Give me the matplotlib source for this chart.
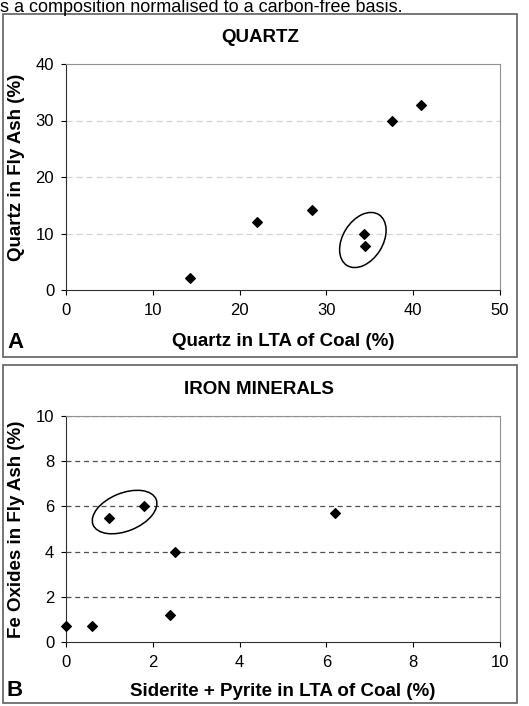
import matplotlib
matplotlib.use('Agg')
import matplotlib.pyplot as plt
from matplotlib.patches import Ellipse, Rectangle
from matplotlib import transforms

plt.rcParams['font.family'] = ['Liberation Sans', 'DejaVu Sans']

# Panel A: quartz
quartz_lta = [14.3, 22.0, 28.3, 34.3, 34.5, 37.5, 40.9]
quartz_ash = [2.1, 12.1, 14.2, 9.9, 7.8, 29.9, 32.7]
quartz_xticks = [0, 10, 20, 30, 40, 50]
quartz_yticks = [0, 10, 20, 30, 40]

# Panel B: iron minerals
iron_lta = [0.0, 0.6, 1.0, 1.8, 2.4, 2.5, 6.2]
iron_ash = [0.7, 0.7, 5.5, 6.0, 1.2, 4.0, 5.7]
iron_xticks = [0, 2, 4, 6, 8, 10]
iron_yticks = [0, 2, 4, 6, 8, 10]

W, H = 529, 706
fig = plt.figure(figsize=(W / 100, H / 100), dpi=100)


def fx(px):
    return px / W


def fy(py):
    return 1 - py / H


# caption fragment cut at the top of the page
fig.text(0.0, fy(12), 's a composition normalised to a carbon-free basis.',
         fontsize=13, va='baseline', ha='left')

# panel frames
for top, bottom in [(14, 357), (365, 703)]:
    fig.patches.append(Rectangle((fx(3), fy(bottom)), fx(514), (bottom - top) / H,
                                 transform=fig.transFigure, fill=False,
                                 edgecolor='#606060', linewidth=1.2))


def setup_axes(ax, xticks, yticks, grid_color, grid_dash):
    ax.set_xlim(xticks[0], xticks[-1])
    ax.set_ylim(yticks[0], yticks[-1])
    ax.set_xticks(xticks)
    ax.set_yticks(yticks)
    ax.tick_params(direction='out', length=3.5, width=0.8, labelsize=12)
    ax.tick_params(axis='x', pad=6)
    ax.tick_params(axis='y', pad=5)
    for y in yticks[1:-1]:
        ax.axhline(y, color=grid_color, linestyle=grid_dash, linewidth=0.9, zorder=1)
    for s in ['top', 'right']:
        ax.spines[s].set_color('#909090')
    for s in ['left', 'bottom']:
        ax.spines[s].set_color('#303030')


def add_ellipse(ax, cx, cy, w_px, h_px, angle):
    trans = fig.dpi_scale_trans + transforms.ScaledTranslation(cx, cy, ax.transData)
    ax.add_patch(Ellipse((0, 0), w_px / 100, h_px / 100, angle=angle,
                         transform=trans, fill=False, edgecolor='black',
                         linewidth=1.1, zorder=4))


# --- Panel A ---
axA = fig.add_axes([fx(66), fy(290), fx(434), 226 / H])
setup_axes(axA, quartz_xticks, quartz_yticks, '#d4d4d4', (0, (5, 3)))
axA.scatter(quartz_lta, quartz_ash, marker='D', s=24, color='black', zorder=5)
add_ellipse(axA, 34.2, 8.85, 60, 40, 58)
fig.text(fx(260), fy(38), 'QUARTZ', fontsize=13.5, fontweight='bold', ha='center', va='center')
fig.text(fx(283), fy(342), 'Quartz in LTA of Coal (%)', fontsize=13.5, fontweight='bold',
         ha='center', va='center')
fig.text(fx(17), fy(167), 'Quartz in Fly Ash (%)', fontsize=13.5, fontweight='bold',
         ha='center', va='center', rotation=90)
fig.text(fx(15), fy(342), 'A', fontsize=16, fontweight='bold', ha='center', va='center')

# --- Panel B ---
axB = fig.add_axes([fx(66), fy(642), fx(434), 226 / H])
setup_axes(axB, iron_xticks, iron_yticks, '#505050', (0, (4, 3)))
axB.axhline(iron_yticks[-1], color='#505050', linestyle=(0, (4, 3)), linewidth=0.9, zorder=1)
axB.scatter(iron_lta, iron_ash, marker='D', s=24, color='black', zorder=5, clip_on=False)
add_ellipse(axB, 1.35, 5.75, 68, 38, 22)
fig.text(fx(259), fy(389), 'IRON MINERALS', fontsize=13.5, fontweight='bold', ha='center', va='center')
fig.text(fx(283), fy(692), 'Siderite + Pyrite in LTA of Coal (%)', fontsize=13.5, fontweight='bold',
         ha='center', va='center')
fig.text(fx(17), fy(529), 'Fe Oxides in Fly Ash (%)', fontsize=13.5, fontweight='bold',
         ha='center', va='center', rotation=90)
fig.text(fx(15), fy(690), 'B', fontsize=16, fontweight='bold', ha='center', va='center')

fig.savefig('out.png', dpi=100)
